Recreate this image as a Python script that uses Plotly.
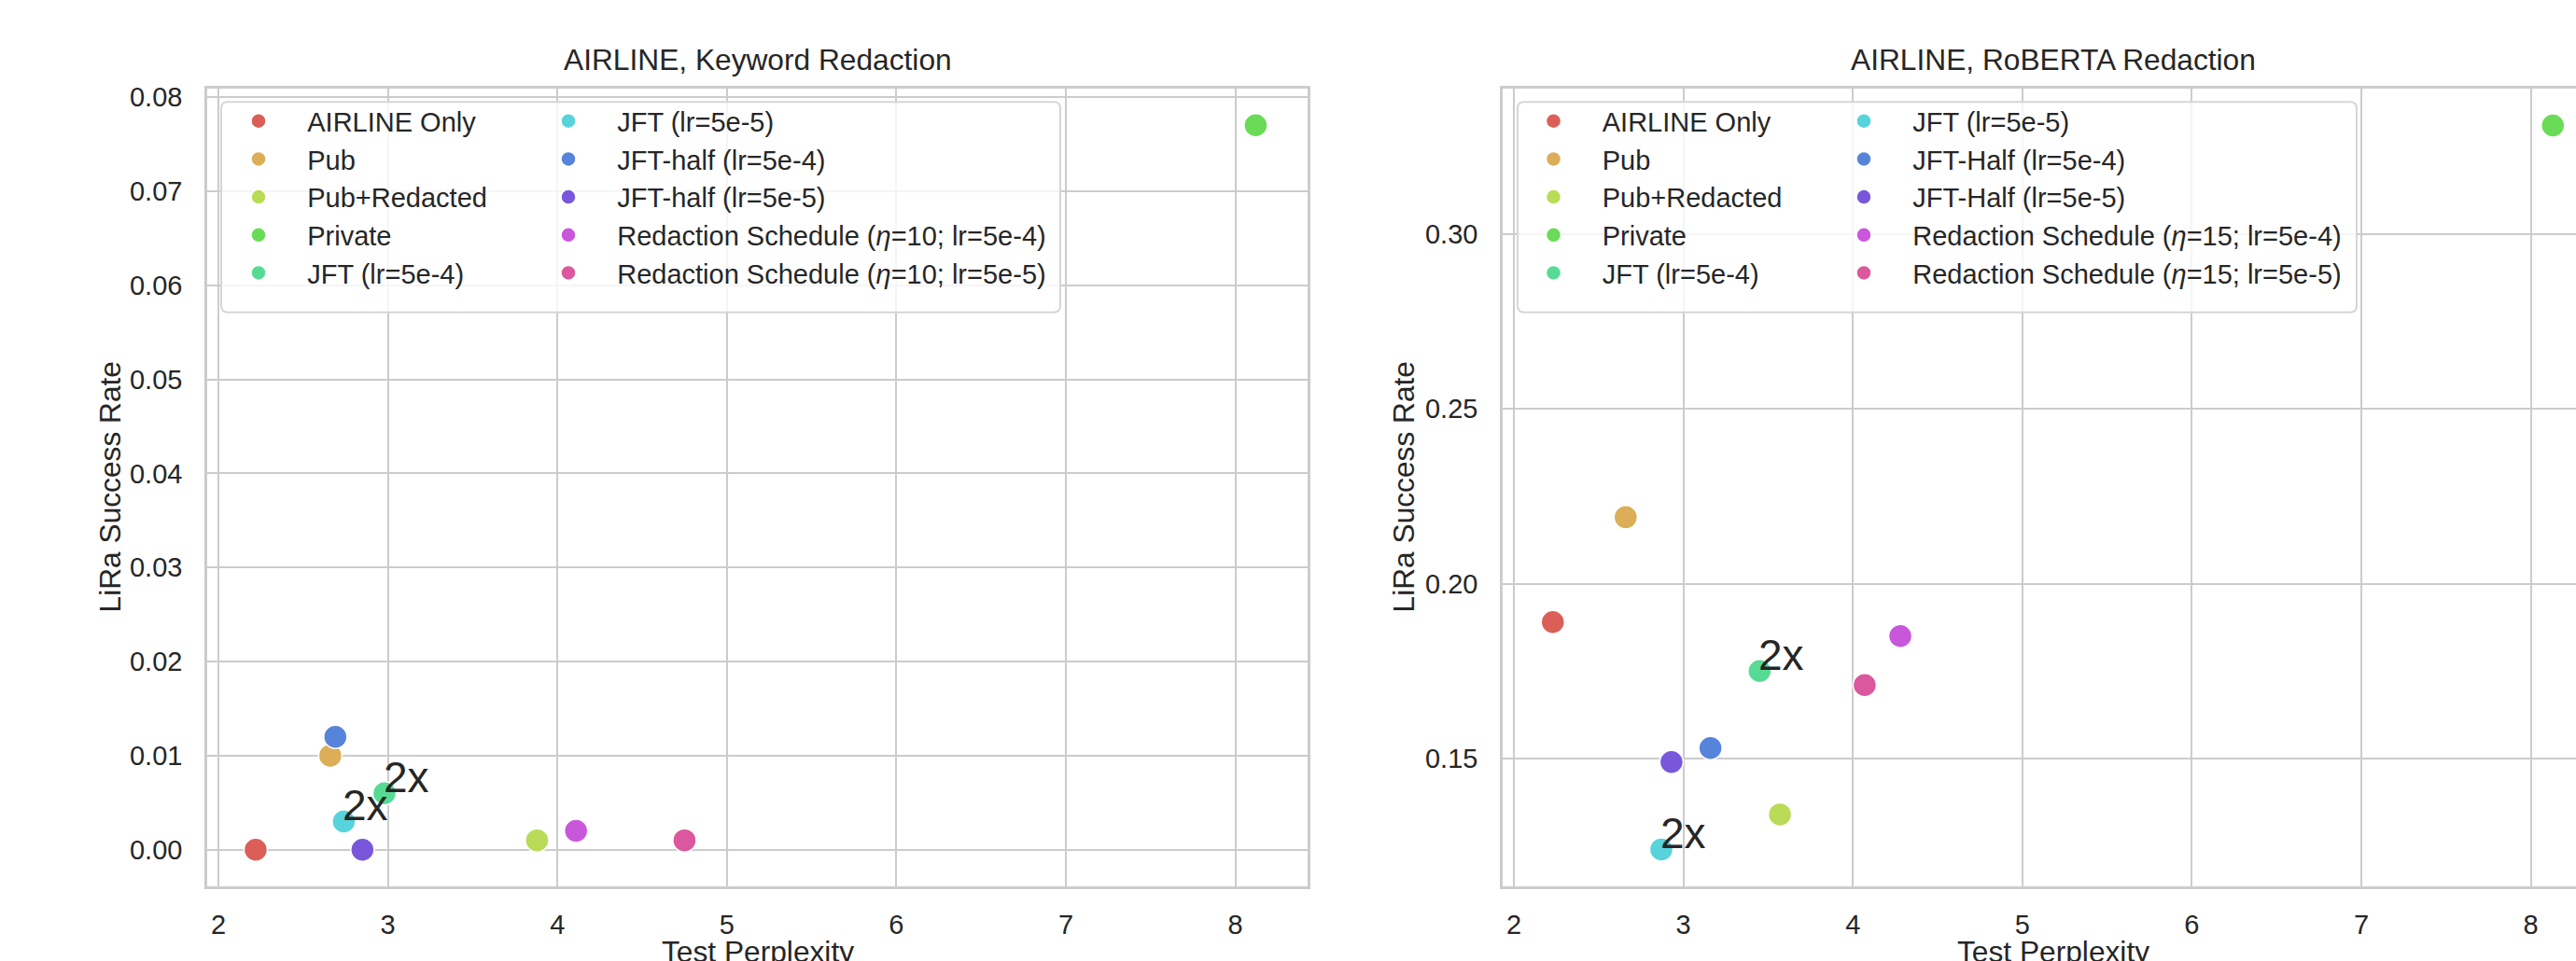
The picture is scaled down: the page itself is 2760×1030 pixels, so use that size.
import plotly.graph_objects as go

W, H = 2760, 1030

# ---------------- data ----------------
labels_kw = ["AIRLINE Only", "Pub", "Pub+Redacted", "Private", "JFT (lr=5e-4)",
             "JFT (lr=5e-5)", "JFT-half (lr=5e-4)", "JFT-half (lr=5e-5)",
             "Redaction Schedule (<i>η</i>=10; lr=5e-4)",
             "Redaction Schedule (<i>η</i>=10; lr=5e-5)"]
ppl_kw = [2.22, 2.66, 3.88, 8.12, 2.98, 2.74, 2.69, 2.85, 4.11, 4.75]
lira_kw = [0.000, 0.010, 0.001, 0.077, 0.006, 0.003, 0.012, 0.000, 0.002, 0.001]
doubled_kw = ["JFT (lr=5e-4)", "JFT (lr=5e-5)"]

labels_rb = ["AIRLINE Only", "Pub", "Pub+Redacted", "Private", "JFT (lr=5e-4)",
             "JFT (lr=5e-5)", "JFT-Half (lr=5e-4)", "JFT-Half (lr=5e-5)",
             "Redaction Schedule (<i>η</i>=15; lr=5e-4)",
             "Redaction Schedule (<i>η</i>=15; lr=5e-5)"]
ppl_rb = [2.23, 2.66, 3.57, 8.13, 3.45, 2.87, 3.16, 2.93, 4.28, 4.07]
lira_rb = [0.189, 0.219, 0.134, 0.331, 0.175, 0.124, 0.153, 0.149, 0.185, 0.171]
doubled_rb = ["JFT (lr=5e-4)", "JFT (lr=5e-5)"]

colors = ["#db5f57", "#dbae57", "#b9db57", "#69db57", "#57db94",
          "#57d3db", "#5784db", "#7957db", "#c957db", "#db579e"]

titles = ["AIRLINE, Keyword Redaction", "AIRLINE, RoBERTA Redaction"]
xlabel = "Test Perplexity"
ylabel = "LiRa Success Rate"
xticks = [2, 3, 4, 5, 6, 7, 8]
yticks_kw = [0.00, 0.01, 0.02, 0.03, 0.04, 0.05, 0.06, 0.07, 0.08]
yticks_rb = [0.15, 0.20, 0.25, 0.30]

# ---------------- style ----------------
FONT = "Liberation Sans, Arial, sans-serif"
TXT = "#262626"
GRID = "#cccccc"
TICK_PX = 29
LAB_PX = 31.7
NB = "\u00a0" * 4

fig = go.Figure()


def add_panel(labels, xs, ys, xa, ya, leg_a, leg_b):
    for i, (lab, x, y, c) in enumerate(zip(labels, xs, ys, colors)):
        fig.add_trace(go.Scatter(
            x=[x], y=[y], mode="markers", name=NB + lab,
            xaxis=xa, yaxis=ya,
            legend=leg_a if i < 5 else leg_b,
            marker=dict(size=25, color=c, line=dict(color="white", width=1.5)),
        ))


add_panel(labels_kw, ppl_kw, lira_kw, "x", "y", "legend", "legend2")
add_panel(labels_rb, ppl_rb, lira_rb, "x2", "y2", "legend3", "legend4")

# "2x" annotations
annotations = []
for labels, xs, ys, dbl, xr, yr in [(labels_kw, ppl_kw, lira_kw, doubled_kw, "x", "y"),
                                     (labels_rb, ppl_rb, lira_rb, doubled_rb, "x2", "y2")]:
    for lab, x, y in zip(labels, xs, ys):
        if lab in dbl:
            annotations.append(dict(x=x, y=y, xref=xr, yref=yr, text="2x", showarrow=False,
                                    xanchor="left", yanchor="bottom", yshift=-11, xshift=-3,
                                    font=dict(size=46, color=TXT, family=FONT)))

# geometry (px)
top_px, bot_px = 89, 949
L1, R1 = 222, 1401
L2 = 1610
px_per_unit = (R1 - L1) / (8.426 - 1.934)
x2_max = 1.934 + (W - L2) / px_per_unit

ydom = [1 - bot_px / H, 1 - top_px / H]

axis_common = dict(showgrid=True, gridcolor=GRID, gridwidth=2, zeroline=False,
                   showline=True, linecolor=GRID, linewidth=2.5,
                   tickfont=dict(size=TICK_PX, color=TXT, family=FONT), ticks="")

fig.update_layout(
    xaxis=dict(domain=[L1 / W, R1 / W], range=[1.934, 8.426], tickvals=xticks,
               mirror=True, anchor="y", ticklabelstandoff=14, **axis_common),
    yaxis=dict(domain=ydom, range=[-0.00385, 0.08085], tickvals=yticks_kw, tickformat=".2f",
               mirror=True, anchor="x", ticklabelstandoff=18, **axis_common),
    xaxis2=dict(domain=[L2 / W, 1.0], range=[1.934, x2_max], tickvals=xticks,
                mirror=True, anchor="y2", ticklabelstandoff=14, **axis_common),
    yaxis2=dict(domain=ydom, range=[0.11355, 0.34145], tickvals=yticks_rb, tickformat=".2f",
                mirror=False, anchor="x2", ticklabelstandoff=18, **axis_common),
)

# titles & axis labels
centers = [(L1 + R1) / 2, (L2 + L2 + (R1 - L1)) / 2]
ylab_x = [118, 1504]
for t, cx, yx in zip(titles, centers, ylab_x):
    annotations.append(dict(text=t, x=cx / W, y=1 - 57 / H, xref="paper", yref="paper",
                            showarrow=False, xanchor="center", yanchor="middle",
                            font=dict(size=LAB_PX, color=TXT, family=FONT)))
    annotations.append(dict(text=xlabel, x=cx / W, y=1 - 1000 / H, xref="paper", yref="paper",
                            showarrow=False, xanchor="center", yanchor="top",
                            font=dict(size=LAB_PX, color=TXT, family=FONT)))
    annotations.append(dict(text=ylabel, x=yx / W, y=1 - 519 / H, xref="paper", yref="paper",
                            showarrow=False, xanchor="center", yanchor="middle", textangle=-90,
                            font=dict(size=LAB_PX, color=TXT, family=FONT)))

# legend boxes
shapes = []


def rounded_box(x0, y0, x1, y1, r=7):
    X = lambda p: p / W
    Y = lambda p: 1 - p / H
    return (f"M {X(x0 + r)} {Y(y0)} L {X(x1 - r)} {Y(y0)} Q {X(x1)} {Y(y0)} {X(x1)} {Y(y0 + r)} "
            f"L {X(x1)} {Y(y1 - r)} Q {X(x1)} {Y(y1)} {X(x1 - r)} {Y(y1)} "
            f"L {X(x0 + r)} {Y(y1)} Q {X(x0)} {Y(y1)} {X(x0)} {Y(y1 - r)} "
            f"L {X(x0)} {Y(y0 + r)} Q {X(x0)} {Y(y0)} {X(x0 + r)} {Y(y0)} Z")


for (x0, x1) in [(237, 1136), (1626, 2525)]:
    shapes.append(dict(type="path", path=rounded_box(x0, 103, x1, 330), xref="paper", yref="paper",
                       fillcolor="rgba(255,255,255,0.8)", line=dict(color="#d6d6d6", width=2),
                       layer="above"))

leg_common = dict(bgcolor="rgba(0,0,0,0)", borderwidth=0, orientation="v",
                  xanchor="left", yanchor="top", itemsizing="trace",
                  font=dict(size=TICK_PX, color=TXT, family=FONT), itemclick=False)
leg_top = 1 - 98 / H
fig.update_layout(
    legend=dict(x=257 / W, y=leg_top, **leg_common),
    legend2=dict(x=589 / W, y=leg_top, **leg_common),
    legend3=dict(x=1644.5 / W, y=leg_top, **leg_common),
    legend4=dict(x=1977 / W, y=leg_top, **leg_common),
)

fig.update_layout(
    width=W, height=H, margin=dict(l=0, r=0, t=0, b=0),
    paper_bgcolor="white", plot_bgcolor="white",
    font=dict(family=FONT, color=TXT),
    annotations=annotations, shapes=shapes, showlegend=True,
)

fig.write_html("out.html", config={"displayModeBar": False},
               post_script="document.body.style.margin='0px';document.body.style.overflow='hidden';")
